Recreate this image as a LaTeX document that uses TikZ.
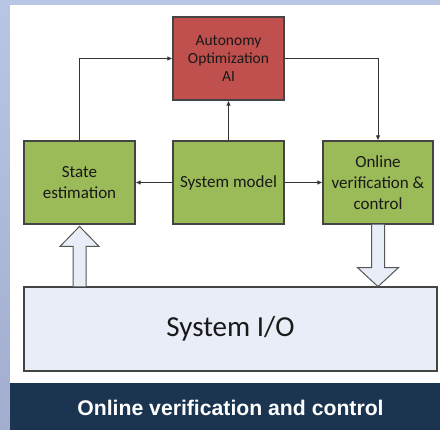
\documentclass[tikz,border=0pt]{standalone}
\usepackage{fontspec}
\setmainfont{Carlito}
\newfontfamily\titlefont{Liberation Sans}
\usetikzlibrary{arrows.meta,calc}
\definecolor{stripA}{HTML}{B8C6E3}
\definecolor{stripB}{HTML}{A2ADCF}
\definecolor{navy}{HTML}{1B3450}
\definecolor{aired}{HTML}{C0504D}
\definecolor{boxgreen}{HTML}{9BBB59}
\definecolor{iofill}{HTML}{E8EDF7}
\definecolor{edge}{HTML}{444444}
\tikzset{
  blk/.style={draw=edge, line width=1.2pt, minimum width=111pt, minimum height=83pt, align=center, inner sep=2pt, text=black!90},
  greenbox/.style={blk, fill=boxgreen, font=\fontsize{17}{21}\selectfont},
  redbox/.style={blk, fill=aired, font=\fontsize{15.5}{18}\selectfont},
  conn/.style={draw=black!80, line width=0.9pt, -{Latex[length=5pt,width=4.5pt]}},
  hollow/.style={draw=edge!90, line width=1pt, fill=iofill}
}
\begin{document}
\begin{tikzpicture}[x=1pt,y=-1pt]
\useasboundingbox (0,0) rectangle (440,430);
% background
\shade[top color=stripA, bottom color=stripB] (0,0) rectangle (440,430);
\fill[white] (10,5) rectangle (440,383);
\fill[navy] (10,383) rectangle (440,430);
\node[text=white, font=\titlefont\bfseries\fontsize{21.2}{25}\selectfont] (title) at (230.5,408) {Online verification and control};
% blocks
\node[redbox] (ai) at (228.5,58.5) {Autonomy\\Optimization\\AI};
\node[greenbox] (se) at (79.5,182.5) {State\\estimation};
\node[greenbox] (sm) at (228.5,182.5) {System model};
\node[greenbox, minimum width=110pt] (ov) at (378,182.5) {Online\\verification \&\\control};
\node[blk, fill=iofill, minimum width=413pt, minimum height=84pt, font=\fontsize{29}{34}\selectfont] (io) at (230.5,329) {System I/O};
% connectors
\draw[conn] (se.north) |- (ai.west);
\draw[conn] (ai.east) -| (ov.north);
\draw[conn] (sm.north) -- (ai.south);
\draw[conn] (sm.west) -- (se.east);
\draw[conn] (sm.east) -- (ov.west);
% hollow block arrows
\draw[hollow] ($(io.north)+(-157.5,0)$) coordinate (ua) -- ++(0,-40) -- ++(-13,0) -- ++(19.5,-20) -- ++(19.5,20) -- ++(-13,0) -- ++(0,40);
\draw[hollow] ($(ov.south)+(-6.5,0)$) -- ++(0,43) -- ++(-14,0) -- ++(20.5,19) -- ++(20.5,-19) -- ++(-14,0) -- ++(0,-43);
\end{tikzpicture}
\end{document}
